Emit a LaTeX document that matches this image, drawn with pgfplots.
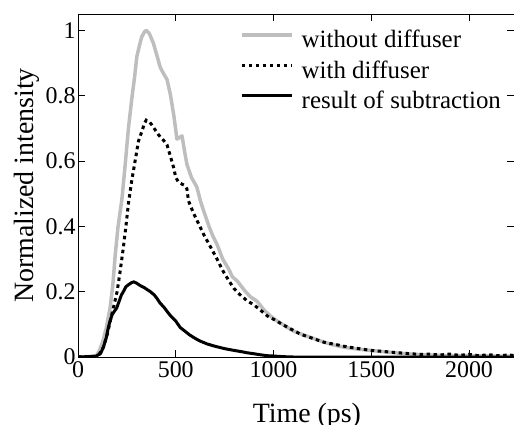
\documentclass[border=0pt]{standalone}
\usepackage{pgfplots}
\pgfplotsset{compat=1.18}
\usepackage{fontspec}
\setmainfont{Liberation Serif}
\definecolor{lgray}{RGB}{190,190,190}
\begin{document}
\begin{tikzpicture}
\begin{axis}[
  at={(0,0)}, anchor=south west,
  scale only axis, width=436bp, height=343bp,
  xmin=0, xmax=2230, ymin=0, ymax=1.05,
  xtick={0,500,1000,1500,2000},
  ytick={0,0.2,0.4,0.6,0.8,1},
  scaled x ticks=false,
  /pgf/number format/1000 sep={},
  /pgf/number format/assume math mode=true,
  tick label style={font=\fontsize{24}{24}\selectfont},
  xticklabel style={yshift=-1bp},
  yticklabel style={xshift=1bp},
  major tick length=7bp,
  axis line style={line width=0.8bp},
  every tick/.style={black, line width=0.8bp},
  xlabel={Time (ps)},
  ylabel={Normalized intensity},
  label style={font=\fontsize{28}{28}\selectfont},
  xlabel style={at={(axis description cs:0.525,-0.1895)}, anchor=base},
  ylabel style={at={(axis description cs:-0.1032,0.5)}, anchor=base, rotate=0},
  legend cell align=left,
  legend style={at={(axis description cs:0.3716,0.96)}, anchor=north west,
    draw=none, fill=none, inner sep=0pt, row sep=4.5bp,
    font=\fontsize{25}{25}\selectfont,
    nodes={inner sep=0bp, text height=20bp, text depth=6bp},
    /tikz/every odd column/.append style={column sep=8bp}},
  legend image code/.code={\draw[#1] (0bp,6bp) -- (50bp,6bp);},
]
\addplot[lgray, line width=3.5bp, line join=round] coordinates {
(0,0) (80,0.002) (96,0.005) (110,0.02) (128,0.05) (145,0.09) (164,0.15) (178,0.22) (190,0.31) (205,0.40) (224,0.48) (240,0.58) (258,0.70) (275,0.79) (290,0.86) (301,0.92) (315,0.955) (326,0.98) (340,0.995) (349,1.0) (365,0.99) (386,0.96) (405,0.92) (421,0.886) (440,0.865) (455,0.85) (472,0.805) (490,0.74) (506,0.667) (515,0.67) (532,0.677) (545,0.63) (557,0.59) (580,0.55) (608,0.52) (626,0.478) (643,0.447) (670,0.40) (690,0.37) (711,0.345) (740,0.30) (770,0.27) (790,0.245) (814,0.233) (850,0.205) (880,0.185) (917,0.17) (950,0.145) (985,0.125) (1019,0.11) (1060,0.095) (1100,0.08) (1150,0.068) (1190,0.06) (1250,0.047) (1300,0.038) (1360,0.03) (1420,0.025) (1500,0.02) (1617,0.013) (1700,0.009) (1788,0.006) (1900,0.004) (2000,0.004) (2100,0.003) (2250,0.003)
};
\addlegendentry{without diffuser}
\addplot[black, line width=3bp, dash pattern=on 3.5bp off 3.5bp] coordinates {
(0,0) (90,0.002) (110,0.01) (130,0.03) (150,0.07) (165,0.11) (181,0.15) (200,0.20) (215,0.26) (232,0.335) (245,0.40) (258,0.47) (275,0.54) (292,0.60) (309,0.66) (326,0.69) (340,0.715) (349,0.725) (365,0.72) (378,0.71) (395,0.695) (412,0.68) (435,0.665) (455,0.65) (470,0.62) (489,0.58) (500,0.55) (514,0.535) (530,0.53) (545,0.525) (557,0.515) (565,0.478) (591,0.44) (615,0.41) (643,0.375) (675,0.34) (711,0.30) (740,0.265) (770,0.235) (797,0.21) (830,0.19) (865,0.172) (899,0.16) (940,0.14) (970,0.125) (1002,0.115) (1050,0.098) (1100,0.082) (1138,0.07) (1200,0.057) (1260,0.045) (1320,0.038) (1360,0.033) (1420,0.027) (1500,0.02) (1560,0.017) (1617,0.014) (1700,0.01) (1750,0.008) (1800,0.009) (1850,0.006) (1900,0.009) (1950,0.005) (2000,0.008) (2050,0.004) (2100,0.007) (2150,0.004) (2200,0.006) (2250,0.004)
};
\addlegendentry{with diffuser}
\addplot[black, line width=3bp, line join=round] coordinates {
(0,0) (90,0.002) (96,0.004) (115,0.01) (130,0.03) (145,0.06) (155,0.09) (164,0.11) (175,0.13) (186,0.14) (198,0.15) (210,0.17) (222,0.19) (232,0.20) (245,0.215) (260,0.222) (275,0.228) (285,0.23) (300,0.226) (320,0.218) (340,0.212) (352,0.207) (370,0.2) (390,0.19) (403,0.18) (420,0.165) (440,0.152) (455,0.14) (475,0.125) (500,0.11) (523,0.09) (545,0.08) (570,0.068) (591,0.06) (620,0.05) (660,0.04) (700,0.033) (740,0.027) (763,0.024) (800,0.02) (830,0.017) (865,0.013) (900,0.01) (930,0.007) (968,0.004) (1000,0.003) (1050,0.001) (1100,0) (2250,0)
};
\addlegendentry{result of subtraction}
\end{axis}
\pgfresetboundingbox
\path[use as bounding box] (-78bp,-68bp) rectangle (436bp,357bp);
\end{tikzpicture}
\end{document}
